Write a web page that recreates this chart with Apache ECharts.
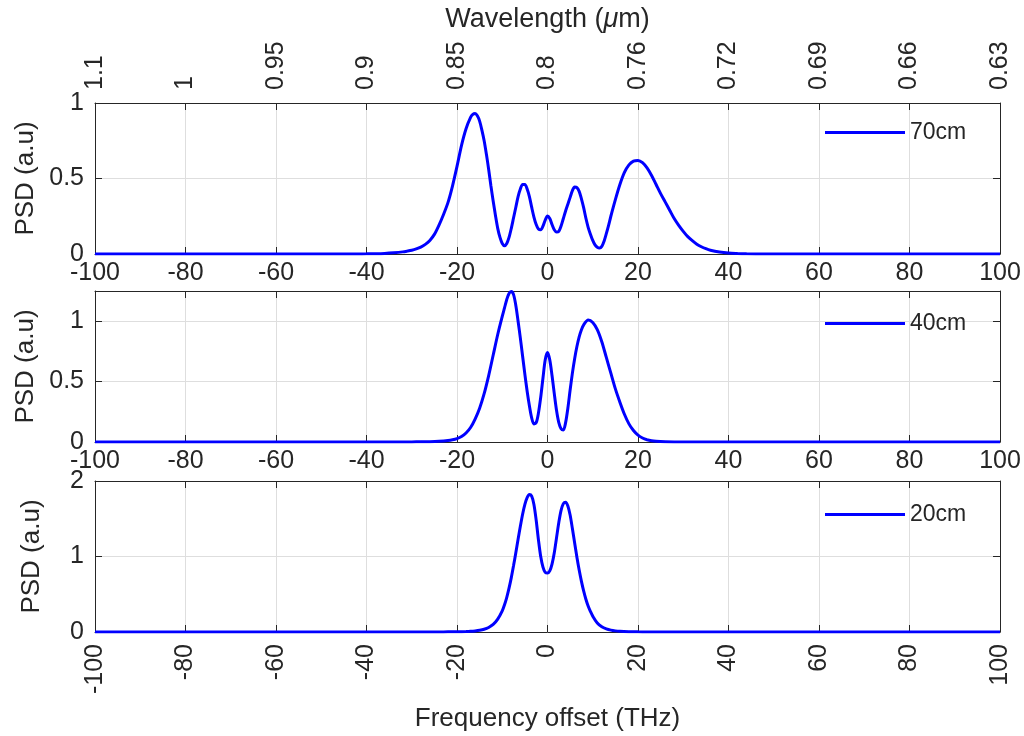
<!DOCTYPE html>
<html>
<head>
<meta charset="utf-8">
<script src="https://cdn.jsdelivr.net/npm/echarts@6/dist/echarts.min.js"></script>
<style>
html,body{margin:0;padding:0;background:#fff;}
#chart{width:1024px;height:736px;}
</style>
</head>
<body>
<div id="chart"></div>
<script>
// ---- Data ----
const freqTicks = [-100, -80, -60, -40, -20, 0, 20, 40, 60, 80, 100];
const wavelengthLabels = ['1.1', '1', '0.95', '0.9', '0.85', '0.8', '0.76', '0.72', '0.69', '0.66', '0.63'];
const seriesNames = ['70cm', '40cm', '20cm'];

const freq70 = [-100, -70, -46, -42, -40, -38, -36, -34, -32, -31, -30, -29, -28, -27, -26, -25, -24, -23, -22, -21, -20, -19, -18, -17,
  -16.5, -16, -15.5, -15, -14.5, -14, -13.5, -13, -12.5, -12, -11.5, -11, -10.5, -10, -9.5, -9, -8.5, -8, -7.5, -7, -6.5, -6, -5.5, -5,
  -4.5, -4, -3.5, -3, -2.5, -2, -1.5, -1, -0.5, 0, 0.5, 1, 1.5, 2, 2.5, 3, 3.5, 4, 4.5, 5, 5.5, 6, 6.5, 7, 7.5, 8, 8.5, 9, 9.5, 10,
  10.5, 11, 11.5, 12, 12.5, 13, 13.5, 14, 15, 16, 17, 18, 19, 20, 21, 22, 23, 24, 25, 26, 27, 28, 29, 30, 31, 32, 33, 34, 35, 36, 38,
  40, 42, 44, 46, 50, 70, 100];
const psd70 = [0, 0, 0, 0.0005, 0.001, 0.002, 0.004, 0.008, 0.014, 0.019, 0.025, 0.034, 0.046, 0.064, 0.09, 0.13, 0.19, 0.26, 0.34, 0.45, 0.58, 0.72, 0.83, 0.905,
  0.925, 0.93, 0.915, 0.88, 0.82, 0.75, 0.66, 0.56, 0.45, 0.35, 0.255, 0.17, 0.11, 0.07, 0.055, 0.07, 0.11, 0.17, 0.24, 0.31, 0.38, 0.43, 0.46, 0.46,
  0.43, 0.38, 0.31, 0.245, 0.195, 0.165, 0.16, 0.185, 0.225, 0.252, 0.235, 0.195, 0.16, 0.145, 0.15, 0.185, 0.235, 0.285, 0.33, 0.375, 0.42, 0.443, 0.44, 0.415, 0.365, 0.305, 0.235, 0.175, 0.13, 0.09,
  0.06, 0.045, 0.04, 0.05, 0.085, 0.135, 0.19, 0.25, 0.36, 0.46, 0.54, 0.59, 0.615, 0.62, 0.605, 0.57, 0.52, 0.46, 0.4, 0.345, 0.29, 0.235, 0.19, 0.15, 0.115, 0.088, 0.065, 0.048, 0.035, 0.025, 0.013,
  0.006, 0.003, 0.001, 0, 0, 0, 0];

const freq40 = [-100, -60, -34, -32, -30, -28, -26, -24, -22, -21, -20, -19, -18, -17, -16, -15, -14, -13, -12, -11, -10,
  -9.5, -9, -8.5, -8, -7.5, -7, -6.5, -6, -5.5, -5, -4.5, -4, -3.5, -3, -2.5, -2, -1.5, -1, -0.5, 0, 0.5, 1, 1.5, 2, 2.5, 3, 3.5,
  4, 4.5, 5, 5.5, 6, 6.5, 7, 7.5, 8, 9, 10, 11, 12, 13, 14, 15, 16, 17, 18, 19, 20, 21, 22, 23, 24, 26, 28, 30, 32, 60, 100];
const psd40 = [0, 0, 0, 0, 0.001, 0.002, 0.003, 0.006, 0.012, 0.018, 0.028, 0.045, 0.075, 0.12, 0.19, 0.28, 0.4, 0.55, 0.72, 0.89, 1.04,
  1.11, 1.18, 1.23, 1.245, 1.22, 1.13, 1.0, 0.86, 0.71, 0.56, 0.42, 0.3, 0.2, 0.15, 0.16, 0.24, 0.37, 0.53, 0.68, 0.74, 0.68, 0.55, 0.4, 0.26, 0.16, 0.11, 0.1,
  0.16, 0.28, 0.43, 0.57, 0.69, 0.79, 0.87, 0.93, 0.97, 1.01, 0.99, 0.93, 0.83, 0.7, 0.57, 0.44, 0.33, 0.23, 0.15, 0.095, 0.057, 0.033, 0.019, 0.011, 0.007, 0.003, 0.001, 0, 0, 0, 0];

const freq20 = [-100, -60, -30, -26, -24, -22, -20, -18, -17, -16, -15, -14, -13, -12, -11, -10,
  -9.5, -9, -8.5, -8, -7.5, -7, -6.5, -6, -5.5, -5, -4.5, -4, -3.5, -3, -2.5, -2, -1.5, -1, -0.5, 0, 0.5, 1, 1.5, 2, 2.5, 3, 3.5,
  4, 4.5, 5, 5.5, 6, 6.5, 7, 7.5, 8, 8.5, 9, 9.5, 10, 11, 12, 13, 14, 15, 16, 18, 20, 22, 24, 26, 30, 60, 100];
const psd20 = [0, 0, 0, 0, 0.001, 0.002, 0.003, 0.006, 0.009, 0.014, 0.022, 0.036, 0.06, 0.1, 0.17, 0.28,
  0.36, 0.46, 0.58, 0.72, 0.88, 1.05, 1.23, 1.4, 1.56, 1.69, 1.78, 1.82, 1.8, 1.69, 1.48, 1.22, 1.0, 0.86, 0.79, 0.78, 0.81, 0.9, 1.05, 1.25, 1.45, 1.61, 1.7,
  1.72, 1.67, 1.55, 1.37, 1.18, 0.99, 0.82, 0.67, 0.54, 0.43, 0.34, 0.27, 0.21, 0.12, 0.07, 0.042, 0.025, 0.015, 0.009, 0.004, 0.002, 0.001, 0, 0, 0, 0, 0];

const yMax = [1, 1.25, 2];
const yInterval = [0.5, 0.5, 1];

// ---- Styling ----
const FONT = 'Liberation Sans, Arial, Helvetica, sans-serif';
const TXT = '#262626';
const AX = '#262626';
const GRIDC = '#dedede';

const gridTops = [103, 291, 481];
const gridH = 151;

const chart = echarts.init(document.getElementById('chart'), null, {renderer: 'canvas'});

const grids = [], xAxes = [], yAxes = [], series = [], legends = [];
const xs = [freq70, freq40, freq20];
const ys = [psd70, psd40, psd20];

for (let i = 0; i < 3; i++) {
  grids.push({left: 95, right: 24, top: gridTops[i], height: gridH, containLabel: false});
  // bottom x axis (labels + grid)
  xAxes.push({
    type: 'value', gridIndex: i, position: 'bottom', min: -100, max: 100, interval: 20,
    axisLine: {show: true, onZero: false, lineStyle: {color: AX, width: 1}},
    axisTick: {show: true, inside: true, length: 7, lineStyle: {color: AX}},
    splitLine: {show: true, lineStyle: {color: GRIDC, width: 1}},
    axisLabel: i < 2 ? {
      show: true, color: TXT, fontFamily: FONT, fontSize: 25, margin: 7
    } : {
      show: true, color: TXT, fontFamily: FONT, fontSize: 25, margin: 12, rotate: 90
    },
    name: i === 2 ? 'Frequency offset (THz)' : '',
    nameLocation: 'middle', nameGap: 74,
    nameTextStyle: {color: TXT, fontFamily: FONT, fontSize: 26}
  });
  // top x axis (frame)
  xAxes.push({
    type: 'value', gridIndex: i, position: 'top', min: -100, max: 100, interval: 20,
    axisLine: {show: true, onZero: false, lineStyle: {color: AX, width: 1}},
    axisTick: {show: true, inside: true, length: 7, lineStyle: {color: AX}},
    splitLine: {show: false},
    axisLabel: i === 0 ? {
      show: true, color: TXT, fontFamily: FONT, fontSize: 25, margin: 13, rotate: -90,
      formatter: function (v) { return wavelengthLabels[freqTicks.indexOf(Math.round(v))]; }
    } : {show: false},
    name: i === 0 ? 'Wavelength ({mu|μ}m)' : '',
    nameLocation: 'middle', nameGap: 70,
    nameTextStyle: {color: TXT, fontFamily: FONT, fontSize: 27,
      rich: {mu: {fontFamily: FONT, fontSize: 27, fontStyle: 'italic', color: TXT}}}
  });
  // left y axis
  yAxes.push({
    type: 'value', gridIndex: i, position: 'left', min: 0, max: yMax[i], interval: yInterval[i],
    axisLine: {show: true, onZero: false, lineStyle: {color: AX, width: 1}},
    axisTick: {show: true, inside: true, length: 7, lineStyle: {color: AX}},
    splitLine: {show: true, lineStyle: {color: GRIDC, width: 1}},
    axisLabel: {show: true, color: TXT, fontFamily: FONT, fontSize: 25, margin: 11,
      showMaxLabel: i === 1 ? false : true},
    name: 'PSD (a.u)', nameLocation: 'middle', nameGap: 50,
    nameTextStyle: {color: TXT, fontFamily: FONT, fontSize: 26}
  });
  // right y axis (frame)
  yAxes.push({
    type: 'value', gridIndex: i, position: 'right', min: 0, max: yMax[i], interval: yInterval[i],
    axisLine: {show: true, onZero: false, lineStyle: {color: AX, width: 1}},
    axisTick: {show: true, inside: true, length: 7, lineStyle: {color: AX}},
    splitLine: {show: false},
    axisLabel: {show: false}
  });
  const data = xs[i].map((x, k) => [x, ys[i][k]]);
  series.push({
    name: seriesNames[i], type: 'line', xAxisIndex: i * 2, yAxisIndex: i * 2,
    data: data, smooth: 0.3, symbol: 'none', clip: true,
    lineStyle: {color: '#0000ff', width: 3}, itemStyle: {color: '#0000ff'}, z: 5
  });
  legends.push({
    data: [seriesNames[i]], left: 825, top: [121, 312, 503][i],
    icon: 'rect', itemWidth: 80, itemHeight: 3, itemGap: 0,
    textStyle: {color: TXT, fontFamily: FONT, fontSize: 23, padding: [0, 0, 0, 0]},
    backgroundColor: 'transparent', padding: 0
  });
}

chart.setOption({
  backgroundColor: '#ffffff',
  animation: false,
  grid: grids,
  xAxis: xAxes,
  yAxis: yAxes,
  legend: legends,
  series: series
});
</script>
</body>
</html>
